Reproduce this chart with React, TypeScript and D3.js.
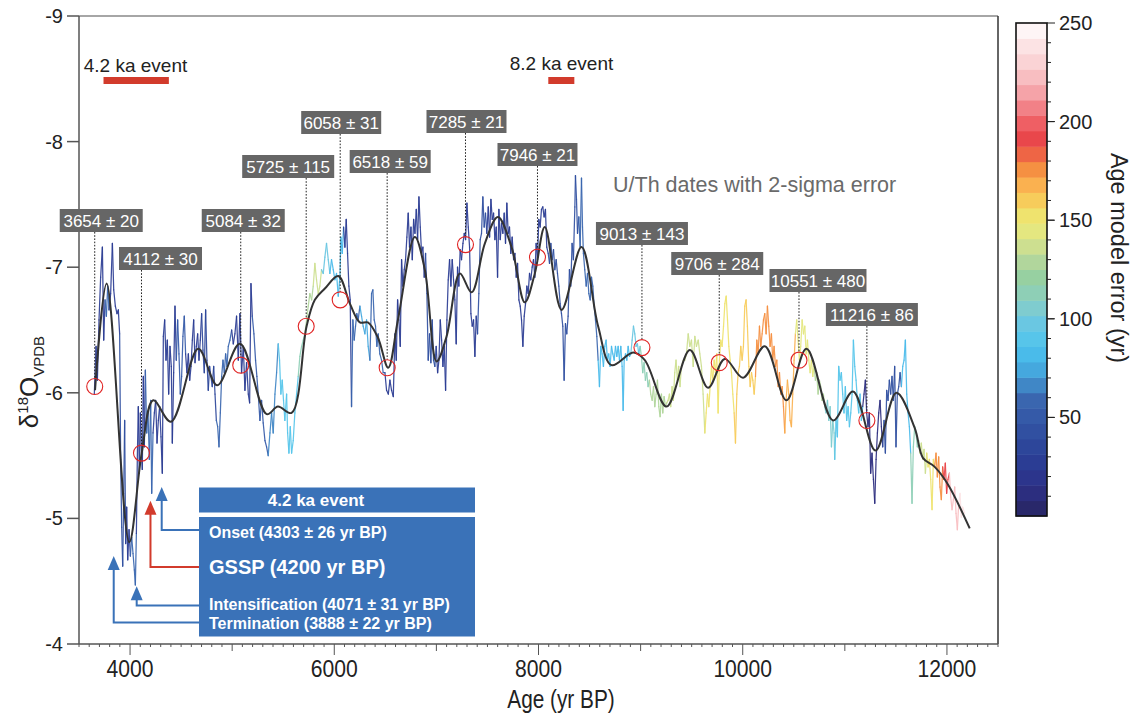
import React from "react";
import * as d3 from "d3";

const FONT = "'Liberation Sans', Arial, Helvetica, sans-serif";

// ---- axes ----
const xTickValues = [4000, 6000, 8000, 10000, 12000];
const yTickValues = [-9, -8, -7, -6, -5, -4];
const colorbarTicks = [50, 100, 150, 200, 250];

// ---- raw δ18O record: [age yr BP, δ18O ‰] ----
const rawSeries: [number, number][] = [
  [3650, -5.99], [3667, -6.37], [3680, -6.1], [3696, -6.58], [3712, -6.92], [3729, -7.16], [3742, -6.42], [3755, -6.74],
  [3768, -6.61], [3781, -6.85], [3794, -6.66], [3810, -6.79], [3827, -7.19], [3840, -6.82], [3856, -6.69], [3872, -6.63],
  [3885, -6.66], [3898, -6.47], [3908, -5.47], [3918, -4.93], [3928, -4.62], [3938, -5.2], [3947, -5.78], [3957, -4.8],
  [3967, -5.09], [3977, -4.67], [3990, -4.91], [4003, -4.7], [4016, -4.85], [4029, -4.72], [4042, -4.59], [4052, -4.47],
  [4062, -4.88], [4071, -5.47], [4081, -5.89], [4091, -5.36], [4101, -5.84], [4110, -5.57], [4120, -5.39], [4130, -6.13],
  [4140, -5.57], [4150, -6.18], [4163, -5.68], [4176, -5.84], [4189, -5.47], [4202, -5.94], [4212, -5.2], [4225, -5.68],
  [4238, -5.84], [4251, -5.94], [4264, -5.6], [4277, -5.78], [4290, -5.89], [4303, -5.65], [4316, -5.36], [4326, -6.45],
  [4339, -6.58], [4352, -6.26], [4365, -6.42], [4378, -5.99], [4391, -6.37], [4404, -6.21], [4414, -5.6], [4427, -6.16],
  [4440, -6.69], [4453, -6.26], [4466, -6.58], [4479, -6.31], [4492, -5.99], [4505, -6.13], [4518, -6.45], [4531, -6.61],
  [4544, -6.31], [4557, -6.16], [4571, -6.31], [4584, -6.1], [4597, -6.21], [4610, -6.42], [4623, -6.58], [4636, -6.24],
  [4649, -6.37], [4662, -6.47], [4675, -6.26], [4688, -6.42], [4701, -6.63], [4714, -6.34], [4727, -6.16], [4740, -6.66],
  [4753, -6.26], [4766, -6.02], [4779, -6.21], [4792, -6.13], [4805, -6.05], [4819, -6.21], [4832, -5.99], [4845, -5.78],
  [4858, -5.73], [4871, -5.57], [4884, -5.84], [4897, -6.13], [4910, -6.26], [4923, -6.16], [4936, -6.31], [4949, -6.21],
  [4962, -6.37], [4978, -6.42], [4995, -6.5], [5011, -6.39],
  [5027, -6.47], [5043, -6.61], [5060, -6.26], [5076, -6.63], [5092, -6.16], [5109, -6.37], [5125, -6.02], [5141, -6.24],
  [5158, -5.99], [5171, -5.92], [5184, -6.87], [5197, -6.61], [5213, -6.47], [5229, -6.26], [5242, -6.13], [5255, -5.99],
  [5272, -5.78], [5288, -5.94], [5304, -5.76], [5321, -5.62], [5337, -5.57], [5353, -5.5], [5370, -5.68], [5386, -5.84],
  [5402, -5.68], [5419, -5.99], [5435, -6.16], [5451, -6.39], [5464, -6.26], [5477, -5.99], [5490, -6.1], [5503, -5.94],
  [5516, -5.78], [5533, -5.99], [5543, -5.68], [5556, -5.52], [5569, -5.73], [5582, -5.52], [5598, -5.62], [5614, -5.84],
  [5631, -5.99], [5647, -6.13], [5663, -6.29], [5680, -6.37], [5696, -6.42], [5712, -6.47], [5729, -6.58], [5745, -6.69],
  [5761, -6.79], [5778, -6.74], [5794, -6.85], [5810, -7.03], [5826, -6.9], [5843, -6.79], [5859, -6.85], [5875, -6.98],
  [5892, -6.95], [5908, -7.08], [5924, -7.19], [5941, -7.06], [5957, -6.95], [5973, -7.06], [5990, -6.98], [6006, -6.9],
  [6022, -6.95], [6039, -6.77], [6055, -6.92], [6065, -7.24], [6078, -7.11], [6091, -7.32], [6104, -7.16], [6117, -7.38],
  [6130, -7.11], [6143, -6.85], [6156, -6.74], [6169, -5.89], [6182, -6.58], [6195, -6.42], [6208, -6.53], [6221, -6.63],
  [6234, -6.58], [6251, -6.69], [6267, -6.61], [6283, -6.53], [6300, -6.47], [6316, -6.58], [6332, -6.37], [6349, -6.26],
  [6365, -6.79], [6378, -6.82], [6391, -6.58], [6404, -6.53], [6417, -6.37], [6430, -6.47], [6446, -6.31], [6463, -6.26],
  [6479, -6.16],
  [6496, -6.16], [6512, -6.02], [6529, -5.99], [6545, -6.1], [6561, -6.02], [6578, -5.97], [6594, -6.47], [6607, -6.26],
  [6620, -6.74], [6633, -6.58], [6646, -6.37], [6659, -7.06], [6672, -6.85], [6685, -6.98], [6698, -7.06], [6711, -7.24],
  [6724, -7.43], [6737, -7.16], [6751, -7.32], [6764, -7.06], [6777, -7.38], [6790, -7.27], [6803, -7.46], [6816, -7.22],
  [6829, -7.56], [6842, -7.32], [6855, -7.11], [6868, -7.16], [6881, -6.92], [6894, -7.11], [6907, -6.79], [6920, -6.26],
  [6933, -6.47], [6946, -6.24], [6959, -6.58], [6972, -6.26], [6985, -6.21], [6998, -6.37], [7012, -6.16], [7025, -6.26],
  [7038, -6.58], [7051, -6.42], [7064, -6.21], [7077, -6.37], [7090, -6.02], [7103, -6.58], [7116, -6.9], [7129, -7.06],
  [7142, -6.85], [7155, -7.06], [7168, -6.9], [7181, -6.74], [7194, -6.39], [7207, -7.0], [7220, -6.85], [7233, -7.14],
  [7246, -7.06], [7260, -7.19], [7273, -7.27], [7286, -7.22], [7299, -7.51], [7312, -7.32], [7325, -7.16], [7338, -6.63],
  [7351, -6.53], [7364, -6.58], [7377, -6.29], [7390, -6.61], [7403, -6.47], [7416, -6.79], [7429, -7.22], [7442, -7.27],
  [7455, -7.56], [7468, -7.32], [7481, -7.43], [7494, -7.27], [7508, -7.48], [7521, -7.24], [7534, -7.54], [7547, -7.38],
  [7560, -7.43], [7573, -7.22], [7586, -7.32], [7599, -6.92], [7612, -7.46], [7625, -7.22], [7638, -7.35], [7651, -7.27],
  [7664, -7.43], [7677, -7.19], [7690, -7.51], [7703, -7.27], [7716, -7.32], [7729, -7.11], [7742, -7.24], [7756, -7.06],
  [7769, -7.11], [7782, -6.92], [7795, -7.03], [7808, -6.74], [7821, -6.69], [7834, -6.58], [7847, -6.37], [7860, -6.61],
  [7873, -6.71], [7886, -6.85], [7899, -6.79], [7912, -6.95], [7925, -6.9], [7938, -7.0], [7951, -7.06],
  [7964, -6.92], [7977, -7.19], [7990, -7.06], [8003, -7.38], [8016, -7.32], [8029, -7.46], [8042, -7.48], [8055, -7.4],
  [8068, -7.46], [8081, -7.16], [8095, -7.11], [8108, -7.03], [8121, -7.19], [8134, -7.06], [8147, -7.14], [8160, -6.98],
  [8173, -7.06], [8186, -6.95], [8199, -6.85], [8212, -6.71], [8225, -6.63], [8238, -6.53], [8251, -6.1], [8264, -6.55],
  [8277, -6.47], [8290, -6.61], [8303, -6.98], [8316, -6.85], [8329, -7.19], [8342, -7.06], [8356, -7.48], [8362, -7.73],
  [8372, -7.54], [8382, -7.27], [8395, -7.4], [8408, -7.16], [8421, -7.71], [8431, -7.32], [8440, -7.11], [8453, -6.98],
  [8467, -6.85], [8480, -6.95], [8493, -6.79], [8506, -6.74], [8519, -6.92], [8532, -6.85], [8545, -6.69], [8558, -6.58],
  [8571, -6.45], [8584, -6.26], [8597, -6.05], [8610, -6.37], [8623, -6.31], [8636, -6.21], [8649, -6.37], [8662, -6.42],
  [8675, -6.26], [8688, -6.31], [8701, -6.21], [8715, -6.37], [8728, -6.31], [8741, -6.26], [8754, -6.37], [8767, -6.29],
  [8780, -6.37], [8793, -6.26], [8806, -6.37], [8819, -6.21], [8829, -5.86], [8839, -6.26], [8852, -6.31], [8865, -6.26],
  [8878, -6.37], [8891, -6.29], [8904, -6.31], [8917, -6.42], [8930, -6.53], [8943, -6.47], [8956, -6.37], [8969, -6.39],
  [8982, -6.31], [8995, -6.37], [9008, -6.29], [9021, -6.16], [9034, -6.24], [9047, -6.1], [9060, -6.16], [9073, -6.05],
  [9086, -6.1], [9099, -5.99], [9113, -5.94], [9126, -6.05], [9139, -5.89], [9152, -5.99], [9165, -6.1], [9178, -5.89],
  [9191, -5.81], [9204, -5.99], [9217, -5.84], [9230, -5.97], [9243, -5.89], [9256, -5.92], [9269, -5.94], [9282, -5.99],
  [9295, -5.89], [9308, -6.05], [9321, -5.94], [9334, -6.16], [9347, -6.26], [9360, -6.1], [9373, -6.21], [9386, -6.05],
  [9399, -6.21], [9419, -6.26],
  [9433, -6.26], [9449, -6.31], [9466, -6.47], [9482, -6.37], [9498, -6.42], [9515, -6.21], [9531, -6.45], [9547, -6.37],
  [9564, -6.42], [9580, -6.31], [9596, -6.21], [9612, -5.99], [9629, -5.68], [9642, -5.84], [9655, -5.99], [9668, -5.89],
  [9681, -6.05], [9694, -6.21], [9707, -6.1], [9720, -6.26], [9733, -6.16], [9746, -6.31], [9759, -5.84], [9772, -6.26],
  [9785, -6.42], [9798, -6.37], [9812, -6.53], [9825, -6.71], [9838, -6.77], [9851, -6.58], [9864, -6.37], [9877, -6.26],
  [9890, -6.16], [9903, -5.99], [9916, -5.84], [9929, -5.6], [9942, -5.99], [9955, -6.16], [9968, -6.21], [9981, -6.37],
  [9994, -6.26], [10007, -6.37], [10020, -6.69], [10033, -6.74], [10046, -6.53], [10060, -6.21], [10073, -6.05], [10086, -6.16],
  [10099, -6.1], [10112, -5.99], [10125, -6.13], [10138, -6.42], [10151, -6.31], [10164, -6.53], [10177, -6.37], [10190, -6.47],
  [10203, -6.58], [10216, -6.63], [10229, -6.47], [10242, -6.69], [10255, -6.53], [10268, -6.37], [10281, -6.47], [10294, -6.26],
  [10307, -6.37], [10321, -6.21], [10334, -6.26], [10347, -6.05], [10360, -6.16], [10373, -5.99], [10386, -6.05], [10399, -5.89],
  [10412, -5.68], [10425, -5.94], [10438, -6.1], [10451, -5.99], [10464, -5.78], [10477, -5.73], [10490, -5.99], [10503, -6.26],
  [10516, -6.47], [10529, -6.58], [10542, -6.42], [10555, -6.26], [10568, -6.37], [10582, -6.58], [10595, -6.47], [10608, -6.53],
  [10621, -6.31], [10634, -6.42], [10647, -6.26], [10660, -6.16], [10673, -6.26], [10686, -6.13], [10699, -6.21], [10712, -6.1],
  [10725, -6.16], [10738, -5.99], [10751, -6.1], [10764, -6.05], [10777, -5.94], [10790, -5.99], [10803, -5.89], [10816, -5.84],
  [10830, -5.94], [10843, -5.78], [10856, -5.89], [10869, -5.57], [10882, -5.78], [10895, -5.68],
  [10901, -5.47], [10914, -5.78], [10927, -5.65], [10940, -6.21], [10953, -6.1], [10966, -6.16], [10979, -5.99], [10992, -5.84],
  [11005, -6.05], [11018, -5.78], [11032, -5.89], [11045, -5.73], [11058, -5.84], [11071, -5.99], [11084, -6.42], [11097, -6.21],
  [11110, -6.1], [11123, -5.94], [11136, -5.84], [11149, -5.99], [11162, -5.78], [11175, -5.89], [11188, -5.99], [11201, -6.1],
  [11214, -5.84], [11227, -5.73], [11240, -5.84], [11253, -5.36], [11266, -5.52], [11280, -5.31], [11293, -5.12], [11306, -5.47],
  [11319, -5.68], [11332, -5.84], [11345, -5.94], [11358, -5.73], [11371, -5.57], [11384, -5.78], [11397, -5.52], [11410, -6.02],
  [11423, -5.94], [11436, -6.1], [11449, -5.99], [11462, -6.13], [11475, -5.94], [11488, -6.21], [11501, -5.57], [11514, -5.99],
  [11528, -6.05], [11541, -6.16], [11554, -6.05], [11567, -6.21], [11580, -6.26], [11593, -6.42], [11606, -5.99], [11619, -5.84],
  [11632, -5.73], [11645, -5.52], [11658, -5.12], [11671, -5.57], [11684, -5.73], [11697, -5.68], [11710, -5.57], [11723, -5.62],
  [11736, -5.52], [11749, -5.6], [11762, -5.47], [11776, -5.55], [11789, -5.36], [11802, -5.52], [11815, -5.41], [11828, -5.47],
  [11841, -5.31], [11854, -5.07], [11867, -5.47], [11880, -5.41], [11893, -5.52], [11906, -5.33], [11919, -5.49], [11932, -5.25],
  [11945, -5.15], [11958, -5.41], [11971, -5.31], [11984, -5.44], [11997, -5.2], [12010, -5.31], [12024, -5.36], [12037, -5.17],
  [12050, -5.07], [12063, -5.15], [12076, -5.25], [12089, -5.04], [12102, -4.91], [12115, -5.12], [12128, -5.2], [12141, -5.01],
  [12154, -5.09], [12174, -5.04],
];

// ---- smoothed record ----
const smoothCurve: [number, number][] = [
  [3657, -6.02], [3771, -6.87], [3992, -4.81], [4114, -5.52], [4227, -5.94], [4401, -5.77], [4668, -6.35], [4854, -6.06],
  [5076, -6.39], [5338, -5.83], [5448, -5.89], [5582, -5.84], [5729, -6.53], [5810, -6.74], [5908, -6.83], [6039, -6.93],
  [6153, -6.71], [6251, -6.56], [6329, -6.56], [6427, -6.44], [6528, -6.2], [6623, -6.58], [6789, -7.24], [6887, -6.98],
  [7002, -6.25], [7100, -6.45], [7230, -6.95], [7345, -6.8], [7475, -7.19], [7602, -7.4], [7736, -7.16], [7866, -6.72],
  [7964, -6.95], [8062, -7.32], [8226, -6.66], [8421, -7.16], [8584, -6.53], [8715, -6.22], [8927, -6.32], [9041, -6.26],
  [9254, -5.89], [9482, -6.34], [9661, -6.04], [9824, -6.27], [10003, -6.12], [10216, -6.37], [10428, -5.94], [10624, -6.35],
  [10885, -5.78], [11080, -6.01], [11300, -5.54], [11505, -6.0], [11684, -5.72], [11766, -5.48], [11880, -5.41], [12010, -5.27],
  [12223, -4.92],
];

// ---- age-model error (yr), step profile: value applies from the listed age onward ----
const errorStartAges = [3600, 3760, 3800, 3900, 3960, 4000, 4060, 4150, 4230, 4350, 4450, 4550, 4700, 4850, 5000, 5200, 5350,
  5450, 5650, 5720, 5800, 5880, 5950, 6090, 6170, 6250, 6350, 6500, 6900, 7000, 7400, 7500, 7900, 8100, 8400, 8580, 8900, 9000,
  9080, 9250, 9430, 9630, 9920, 10120, 10410, 10510, 10700, 10800, 10900, 11180, 11370, 11550, 11650, 11720, 11800, 11880,
  11960, 12030, 12110];
const errorValues = [30, 55, 30, 45, 25, 55, 30, 55, 30, 25, 50, 25, 35, 55, 30, 50, 65,
  90, 110, 125, 140, 95, 85, 30, 55, 75, 60, 25, 45, 25, 40, 25, 30, 45, 55, 85, 100, 110,
  125, 135, 140, 152, 162, 175, 165, 143, 125, 105, 88, 15, 45, 80, 110, 138, 155, 175,
  192, 220, 240];

// ---- U/Th dates ----
const dateLabels = ["3654 ± 20", "4112 ± 30", "5084 ± 32", "5725 ± 115", "6058 ± 31", "6518 ± 59", "7285 ± 21",
  "7946 ± 21", "9013 ± 143", "9706 ± 284", "10551 ± 480", "11216 ± 86"];
const dateAges = [3654, 4112, 5084, 5725, 6058, 6518, 7285, 7990, 9013, 9770, 10551, 11216];
const dateD18O = [-6.05, -5.52, -6.22, -6.53, -6.74, -6.2, -7.18, -7.08, -6.36, -6.24, -6.26, -5.78];
// label layout: [box centre offset from line (px), box top (px), box width (px)]
const dateLabelLayout: [number, number, number][] = [
  [6.5, 209, 83], [19, 247, 83], [2.5, 209, 83], [-18, 155, 92], [1, 111, 80], [3, 150, 81],
  [1, 110, 80], [0, 143, 80], [0, 222, 92], [-2, 252, 92], [19, 269, 97], [5, 303, 92],
];

// ---- climate events ----
const eventNames = ["4.2 ka event", "8.2 ka event"];
const eventStart = [3740, 8096];
const eventEnd = [4380, 8351];

// ---- 4.2 ka event phases ----
const phaseLabels = ["Onset (4303 ± 26 yr BP)", "GSSP (4200 yr BP)", "Intensification (4071 ± 31 yr BP)", "Termination (3888 ± 22 yr BP)"];
const phaseAges = [4310, 4200, 4065, 3840];
const phaseTipD18O = [-5.25, -5.14, -4.46, -4.7];
const phaseColors = ["#3a72b8", "#d23b2c", "#3a72b8", "#3a72b8"];
// layout: [arrow row y, text baseline y, font size]
const phaseLayout: [number, number, number][] = [[530, 538, 16], [567, 574, 20], [605.5, 610, 16], [622.5, 629, 16]];

// ---- colour map ----
const cmapStops: [number, string][] = [
  [0, "#272560"], [15, "#2d3088"], [30, "#2b4096"], [45, "#3252a3"], [60, "#3b68b0"], [72, "#44a2da"], [85, "#4cc3ef"],
  [100, "#6fc8e0"], [110, "#8ccfc0"], [120, "#93cfa2"], [132, "#bcd99a"], [142, "#e0e685"], [150, "#ecea74"],
  [158, "#f6d35e"], [166, "#fbb954"], [174, "#f79a42"], [182, "#f06d44"], [190, "#e84347"], [198, "#ee5a5f"],
  [206, "#f27c82"], [214, "#f5a0a5"], [222, "#f8bcbf"], [230, "#fad2d4"], [240, "#fce6e7"], [250, "#ffffff"],
];
const N_BANDS = 32;
const ERR_MAX = 250;

const stopScale = d3
  .scaleLinear<string>()
  .domain(cmapStops.map((d) => d[0]))
  .range(cmapStops.map((d) => d[1]))
  .interpolate(d3.interpolateRgb)
  .clamp(true);
const bandIndex = (v: number) => Math.min(N_BANDS - 1, Math.max(0, Math.floor((v / ERR_MAX) * N_BANDS)));
const bandColor = (v: number) => stopScale(((bandIndex(v) + 0.5) * ERR_MAX) / N_BANDS);

export default function App() {
  const W = 1131;
  const H = 715;
  const x = d3.scaleLinear().domain([3500, 12500]).range([79, 998]);
  const y = d3.scaleLinear().domain([-9, -4]).range([16, 644]);
  const cb = d3.scaleLinear().domain([0, ERR_MAX]).range([516, 23]);

  const errAt = (age: number) => errorValues[Math.max(0, d3.bisectRight(errorStartAges, age) - 1)];
  const segs = d3.pairs(rawSeries).map(([a, b]) => ({ a, b, color: bandColor(errAt((a[0] + b[0]) / 2)) }));

  const smoothPath = d3
    .line<[number, number]>()
    .x((d) => x(d[0]))
    .y((d) => y(d[1]))
    .curve(d3.curveCatmullRom.alpha(0.5))(smoothCurve) as string;

  const minorTicks = d3.range(3500, 12501, 100);
  const bands = d3.range(N_BANDS);
  const cbMinor = d3.range(10, 250, 10);

  const boxLeft = 199;
  const boxRight = 475;

  return (
    <svg width={W} height={H} style={{ position: "absolute", left: 0, top: 0, background: "#fff" }} fontFamily={FONT}>
      <rect x={0} y={0} width={W} height={H} fill="#fff" />

      {/* frame */}
      <line x1={79} x2={998} y1={16} y2={16} stroke="#888" strokeWidth={1.5} />
      <line x1={998} x2={998} y1={16} y2={644} stroke="#333" strokeWidth={1.5} />
      <line x1={79} x2={79} y1={16} y2={644} stroke="#555" strokeWidth={1.5} />
      <line x1={79} x2={998} y1={644} y2={644} stroke="#555" strokeWidth={1.5} />

      {/* raw record */}
      <g strokeWidth={1.25} strokeLinecap="round">
        {segs.map((s, i) => (
          <line key={i} x1={x(s.a[0])} y1={y(s.a[1])} x2={x(s.b[0])} y2={y(s.b[1])} stroke={s.color} strokeOpacity={0.92} />
        ))}
      </g>

      {/* smooth curve */}
      <path d={smoothPath} fill="none" stroke="#333" strokeWidth={2} />

      {/* U/Th dates */}
      {dateLabels.map((lab, i) => {
        const cx = x(dateAges[i]);
        const cy = y(dateD18O[i]);
        const [dx, top, bw] = dateLabelLayout[i];
        const bh = 23;
        return (
          <g key={lab}>
            <line x1={cx} x2={cx} y1={top + bh} y2={cy - 8} stroke="#222" strokeWidth={1} strokeDasharray="1.6,1.6" />
            <circle cx={cx} cy={cy} r={8} fill="none" stroke="#e02424" strokeWidth={1.1} />
            <rect x={cx + dx - bw / 2} y={top} width={bw} height={bh} fill="#666" />
            <text x={cx + dx} y={top + 17.5} textAnchor="middle" fill="#fff" fontSize={17}>
              {lab}
            </text>
          </g>
        );
      })}

      {/* events */}
      {eventNames.map((n, i) => {
        const x0 = x(eventStart[i]);
        const x1 = x(eventEnd[i]);
        return (
          <g key={n}>
            <rect x={x0} y={77} width={x1 - x0} height={7} fill="#d23b2c" />
            <text x={i === 0 ? 135.5 : 561.5} y={i === 0 ? 72 : 70} textAnchor="middle" fontSize={19} fill="#222">
              {n}
            </text>
          </g>
        );
      })}

      <text x={613} y={192} fontSize={21.5} fill="#6a6a6a">
        U/Th dates with 2-sigma error
      </text>

      {/* 4.2 ka event box */}
      <rect x={boxLeft} y={487.5} width={boxRight - boxLeft} height={25} fill="#3a72b8" />
      <text x={316} y={506} textAnchor="middle" fontSize={17} fontWeight="bold" fill="#fff">
        4.2 ka event
      </text>
      <rect x={boxLeft} y={517} width={boxRight - boxLeft} height={119.5} fill="#3a72b8" />
      {phaseLabels.map((lab, i) => {
        const ax = x(phaseAges[i]);
        const tip = y(phaseTipD18O[i]);
        const [rowY, baseY, fs] = phaseLayout[i];
        const col = phaseColors[i];
        return (
          <g key={lab}>
            <path d={`M${boxLeft},${rowY}H${ax}V${tip + 12}`} fill="none" stroke={col} strokeWidth={2} />
            <path d={`M${ax},${tip}L${ax - 6},${tip + 14}L${ax + 6},${tip + 14}Z`} fill={col} />
            <text x={209} y={baseY} fontSize={fs} fontWeight="bold" fill="#fff">
              {lab}
            </text>
          </g>
        );
      })}

      {/* x ticks */}
      {minorTicks.map((t) => {
        const len = t % 2000 === 0 ? 11 : t % 1000 === 0 ? 7 : 3;
        return <line key={t} x1={x(t)} x2={x(t)} y1={644} y2={644 + len} stroke="#555" strokeWidth={1} />;
      })}
      {xTickValues.map((t) => (
        <text key={t} transform={`translate(${x(t)},677) scale(0.88,1)`} textAnchor="middle" fontSize={24} fill="#222">
          {t}
        </text>
      ))}
      <text transform="translate(561,708) scale(0.8,1)" textAnchor="middle" fontSize={26} fill="#222">
        Age (yr BP)
      </text>

      {/* y ticks */}
      {yTickValues.map((t) => (
        <g key={t}>
          <line x1={67} x2={79} y1={y(t)} y2={y(t)} stroke="#555" strokeWidth={1.5} />
          <text x={63} y={y(t) + 7} textAnchor="end" fontSize={20} fill="#222">
            {t}
          </text>
        </g>
      ))}
      <text transform="translate(38,382) rotate(-90)" textAnchor="middle" fontSize={26} fill="#222">
        δ<tspan fontSize={15} dy={-10}>18</tspan>
        <tspan dy={10}>O</tspan>
        <tspan fontSize={15} dy={6}>VPDB</tspan>
      </text>

      {/* colour bar */}
      {bands.map((k) => {
        const v0 = (k * ERR_MAX) / N_BANDS;
        const v1 = ((k + 1) * ERR_MAX) / N_BANDS;
        return <rect key={k} x={1016} y={cb(v1)} width={31} height={cb(v0) - cb(v1) + 0.5} fill={stopScale((v0 + v1) / 2)} />;
      })}
      <rect x={1016} y={cb(ERR_MAX)} width={31} height={cb(0) - cb(ERR_MAX)} fill="none" stroke="#111" strokeWidth={1.6} />
      {cbMinor.map((t) => (
        <line key={t} x1={1047} x2={t % 50 === 0 ? 1054 : 1051} y1={cb(t)} y2={cb(t)} stroke="#222" strokeWidth={1} />
      ))}
      {colorbarTicks.map((t) => (
        <g key={t}>
          <line x1={1047} x2={1055} y1={cb(t)} y2={cb(t)} stroke="#222" strokeWidth={1} />
          <text x={1059} y={cb(t) + 7} fontSize={20} fill="#222">
            {t}
          </text>
        </g>
      ))}
      <text transform="translate(1111,258) rotate(90)" textAnchor="middle" fontSize={23.5} fill="#222">
        Age model error (yr)
      </text>
    </svg>
  );
}
